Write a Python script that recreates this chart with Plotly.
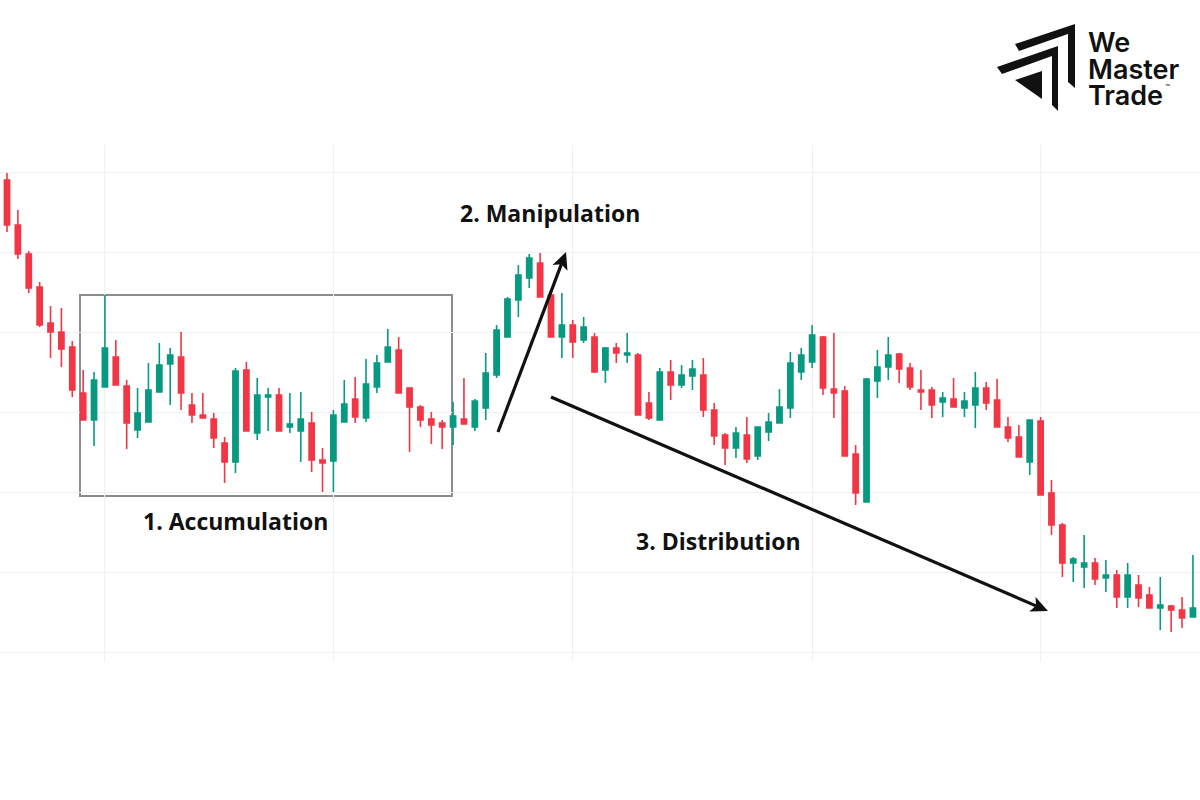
import math
import plotly.graph_objects as go

# ---- data (price units are arbitrary) ----
candle_index = list(range(1, 111))
open_ = [620,575,546,513,477,468,453,407,380,413,443,414,370,378,408,436,443,395,385,381,
         357,338,430,367,403,405,373,369,377,340,339,378,401,382,413,438,450,412,393,381,
         377,373,381,373,392,425,463,500,522,537,505,463,475,460,463,430,452,445,445,397,
         380,428,415,424,425,390,365,352,365,344,368,377,392,428,438,463,411,409,346,298,
         419,433,446,432,410,410,398,401,392,395,412,400,373,363,338,379,307,275,237,233,
         237,222,225,203,215,205,192,194,190,183]
high_ = [627,590,549,518,494,492,459,430,428,505,460,420,412,437,457,452,468,407,407,387,
         363,432,438,422,412,412,407,408,388,352,390,420,423,441,445,471,463,412,395,388,
         380,398,422,401,447,475,503,535,546,547,505,507,480,483,467,453,457,467,447,408,
         432,440,435,440,442,397,367,373,383,373,387,411,448,452,475,464,467,414,355,422,
         450,463,447,437,430,413,408,422,408,428,418,421,383,375,380,383,320,277,243,265,
         242,240,230,237,225,213,223,195,203,245]
low_ = [568,541,507,473,442,433,403,380,354,413,415,351,362,378,408,395,390,377,382,352,
        317,327,369,360,369,369,367,338,328,308,308,378,377,378,407,438,407,348,373,356,
        351,355,376,369,380,422,463,483,512,503,463,442,442,457,427,417,437,437,385,380,
        380,400,412,410,383,355,335,342,337,340,359,377,382,420,432,405,382,344,295,298,
        402,420,417,410,390,382,383,393,383,372,390,373,358,343,325,305,265,223,218,212,
        215,208,192,192,193,192,170,168,172,183]
close_ = [575,546,512,475,468,451,410,380,420,452,415,377,387,410,435,445,407,385,382,362,
          338,429,369,405,405,369,376,381,340,337,385,396,383,416,437,453,407,393,380,375,
          373,384,376,399,427,470,501,525,542,503,463,475,458,473,428,452,447,447,385,382,
          428,415,425,431,390,364,352,367,341,373,378,393,437,445,465,412,407,344,307,421,
          433,445,431,413,408,395,402,393,399,412,397,373,362,343,380,305,275,237,241,237,
          221,225,203,225,202,192,195,190,182,192]

grid_x = [10, 31, 53, 75, 96]
grid_y = [148, 228, 308, 388, 468, 548, 628]

labels = ["1. Accumulation", "2. Manipulation", "3. Distribution"]

UP = "#089981"
DOWN = "#F23645"
INK = "#111111"

fig = go.Figure(go.Candlestick(
    x=candle_index, open=open_, high=high_, low=low_, close=close_,
    increasing=dict(line=dict(color=UP, width=1.6), fillcolor=UP),
    decreasing=dict(line=dict(color=DOWN, width=1.6), fillcolor=DOWN),
    whiskerwidth=0, showlegend=False, hoverinfo="skip",
))

T, B = 145, 138
H = 800 - T - B

def px(x):
    return x / 1200.0

def py(y):
    return (800 - B - y) / H

def poly(pts, color=INK):
    d = "M " + " L ".join(f"{px(a):.5f},{py(b):.5f}" for a, b in pts) + " Z"
    return dict(type="path", xref="paper", yref="paper", path=d,
                fillcolor=color, line=dict(width=0))

shapes = []
# accumulation box
shapes.append(dict(type="rect", xref="x", yref="y", x0=7.71, x1=41.9, y0=304, y1=505,
                   line=dict(color="#8c8c8c", width=2), fillcolor="rgba(0,0,0,0)", layer="below"))

# arrows (line + barbed head), page-pixel geometry
def arrow(x0, y0, x1, y1, L=17, W=8, notch=4):
    dx, dy = x1 - x0, y1 - y0
    n = math.hypot(dx, dy)
    ux, uy = dx / n, dy / n
    nx, ny = -uy, ux
    bx, by = x1 - ux * L, y1 - uy * L
    sx, sy = x1 - ux * (L - notch), y1 - uy * (L - notch)
    out = [dict(type="line", xref="paper", yref="paper",
                x0=px(x0), y0=py(y0), x1=px(sx), y1=py(sy),
                line=dict(color=INK, width=3.2))]
    out.append(poly([(x1, y1), (bx + nx * W, by + ny * W), (sx, sy), (bx - nx * W, by - ny * W)]))
    return out

shapes += arrow(498, 432, 566, 252)
shapes += arrow(551, 397, 1048, 611)

# logo icon
shapes.append(poly([(1015, 44), (1075, 24), (1075, 88), (1068, 82), (1068, 34), (1019, 51)]))
shapes.append(poly([(997, 67), (1058, 46), (1058, 111), (1052, 105), (1052, 56), (1002, 74)]))
shapes.append(poly([(1015, 80), (1042, 71), (1042, 99)]))

annotations = []
label_pos = [(21.96, 279), (50.9, 587), (66.35, 259)]
for t, (lx, ly) in zip(labels, label_pos):
    annotations.append(dict(x=lx, y=ly, xref="x", yref="y", text=t, showarrow=False,
                            font=dict(family="Open Sans", size=23, color=INK, weight=700),
                            xanchor="center", yanchor="middle"))

# logo text
for t, yy in [("We", 42), ("Master", 69), ("Trade", 95)]:
    annotations.append(dict(x=px(1086), y=py(yy), xref="paper", yref="paper", text=t,
                            showarrow=False, xanchor="left", yanchor="middle", height=26,
                            font=dict(family="Inter", size=27, color=INK, weight=600)))
annotations.append(dict(x=px(1163), y=py(87), xref="paper", yref="paper", text="™",
                        showarrow=False, xanchor="left", yanchor="middle",
                        font=dict(family="Inter", size=8, color=INK)))

fig.update_layout(
    width=1200, height=800,
    margin=dict(l=0, r=0, t=T, b=B, pad=0),
    paper_bgcolor="white", plot_bgcolor="white",
    shapes=shapes, annotations=annotations,
    boxgap=0.32,
    xaxis=dict(range=[0.357, 110.65], rangeslider=dict(visible=False), showticklabels=False,
               tickvals=grid_x, showgrid=True, gridcolor="#eef0f3", gridwidth=1,
               zeroline=False, showline=False, ticks=""),
    yaxis=dict(range=[B, 800 - T], showticklabels=False, tickvals=grid_y,
               showgrid=True, gridcolor="#eef0f3", gridwidth=1, zeroline=False,
               showline=False, ticks=""),
)

fig.write_html("out.html", config={"displayModeBar": False},
               post_script="document.body.style.margin='0';")
